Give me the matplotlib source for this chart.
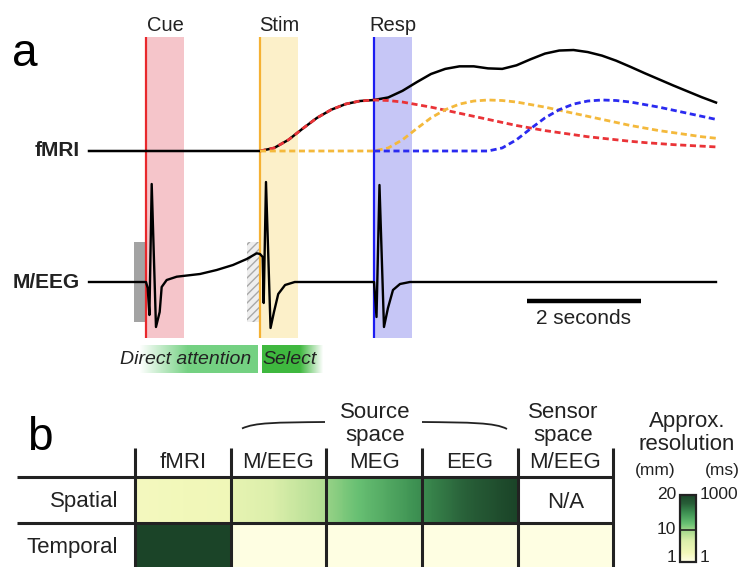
import numpy as np
import matplotlib.pyplot as plt
from matplotlib.colors import LinearSegmentedColormap, Normalize, to_rgb
from matplotlib.patches import Rectangle, PathPatch
from matplotlib.path import Path

plt.rcParams['font.family'] = ['Liberation Sans', 'DejaVu Sans']
INK = '#222222'

# ---------------- panel a: task timeline ----------------
events = ["Cue", "Stim", "Resp"]
event_times = [0.0, 2.0, 4.0]            # s
event_width = 0.67                        # s, shaded window after each event
event_colors = ["#e8282c", "#f5b133", "#1c1cf2"]
band_colors = ["#f5c5ca", "#fcf0c9", "#c6c6f6"]
dash_colors = ["#ea3337", "#f4b93c", "#2a2af0"]
dash_start = [2.0, 2.0, 4.0]             # s, where each dashed response is drawn from

# normalised haemodynamic response, sampled every 0.25 s after the event
HRF_DT = 0.25
hrf_v = [0, 0, 0, 0, 0, 0, 0, 0, 0,
         0.06, 0.22, 0.44, 0.65, 0.81, 0.92, 0.98, 1.00,
         0.99, 0.96, 0.91, 0.86, 0.80, 0.74, 0.68, 0.62,
         0.56, 0.50, 0.45, 0.40, 0.36, 0.32, 0.28, 0.25,
         0.22, 0.19, 0.165, 0.145, 0.125, 0.11, 0.095, 0.08]

# M/EEG trace (s, arbitrary units)
meeg_t = [-1.0, 0.0, 0.03, 0.06, 0.10, 0.175, 0.24, 0.275, 0.363, 0.539, 0.947,
          1.24, 1.526, 1.767, 1.942, 2.0, 2.047, 2.065, 2.105, 2.185, 2.245,
          2.32, 2.44, 2.61, 4.0, 4.044, 4.096, 4.175, 4.245, 4.333, 4.456,
          4.63, 10.0]
meeg_v = [0, 0, -0.06, -0.33, 0.98, -0.45, -0.30, -0.05, 0.02, 0.053, 0.08,
          0.12, 0.17, 0.23, 0.287, 0.28, 0.25, -0.21, 1.0, -0.46, -0.30,
          -0.12, -0.03, 0, 0, -0.35, 0.97, -0.45, -0.26, -0.08, -0.02,
          0, 0]

# baseline windows in the M/EEG row: (start, end, hatched)
baseline_windows = [(-0.205, 0.0, False), (1.78, 1.98, True)]
scale_bar = (6.68, 8.68)

# ---------------- panel b: resolution table ----------------
columns = ["fMRI", "M/EEG", "MEG", "EEG", "M/EEG"]
rows = ["Spatial", "Temporal"]
spatial_mm = [(3.0, 3.6), (5.0, 9.0), (10.0, 15.0), (15.0, 20.0), None]
temporal_ms = [1000, 1, 1, 1, 1]
mm_range = (1, 20)
ms_range = (1, 1000)

res_cmap = LinearSegmentedColormap.from_list(
    "res", [(0.0, "#fefee2"), (0.12, "#f2f8ba"), (0.3, "#dcefab"),
            (0.45, "#a5d88c"), (0.56, "#68c073"), (0.72, "#3e9253"),
            (0.86, "#285f38"), (1.0, "#1b4428")])

fig = plt.figure(figsize=(7.41, 5.67), dpi=100)
ax = fig.add_axes([0, 0, 1, 1])          # pixel space for labels and table
ax.set_xlim(0, 741)
ax.set_ylim(567, 0)
ax.axis('off')

at = fig.add_axes([0, 0, 1, 1])          # time axis for the traces
at.set_xlim(-146 / 57, 595 / 57)
at.set_ylim(567, 0)
at.axis('off')
at.patch.set_alpha(0)

FMRI_Y, FMRI_GAIN = 151, 51
MEEG_Y, MEEG_GAIN = 282, 100

for name, t0, c, bc in zip(events, event_times, event_colors, band_colors):
    at.add_patch(Rectangle((t0, 37), event_width, 301, color=bc, lw=0, zorder=1))
    at.plot([t0, t0], [37, 338], color=c, lw=1.6, zorder=2, solid_capstyle='butt')
    at.text(t0 + event_width / 2, 31, name, ha='center', va='baseline',
            fontsize=14.5, color=INK)

for t0, t1, hatched in baseline_windows:
    if hatched:
        at.add_patch(Rectangle((t0, 242), t1 - t0, 80, facecolor='#eeeeee',
                               edgecolor='#a8a8a8', hatch='////', lw=0, zorder=1.5))
    else:
        at.add_patch(Rectangle((t0, 242), t1 - t0, 80, color='#a3a3a3', lw=0, zorder=1.5))

# fMRI: each event's response is the HRF shifted to its onset
t_grid = -1.0 + HRF_DT * np.arange(45)
responses = []
for t0 in event_times:
    r = np.zeros(len(t_grid))
    lead = int(round((t0 - t_grid[0]) / HRF_DT))
    n = min(len(hrf_v), len(t_grid) - lead)
    r[lead:lead + n] = hrf_v[:n]
    responses.append(r)
total = np.sum(responses, axis=0)
at.plot(t_grid, FMRI_Y - FMRI_GAIN * total, color='black', lw=1.8, zorder=3)
for r, start, c in zip(responses, dash_start, dash_colors):
    m = t_grid >= start - 1e-9
    at.plot(t_grid[m], FMRI_Y - FMRI_GAIN * r[m], color=c, lw=2.0,
            dashes=(2.2, 1.3), zorder=4)

at.plot(meeg_t, MEEG_Y - MEEG_GAIN * np.array(meeg_v), color='black', lw=1.7,
        zorder=3, solid_joinstyle='round')

at.plot(scale_bar, [301, 301], color='black', lw=3.2, solid_capstyle='butt')
at.text(np.mean(scale_bar), 318, "2 seconds", ha='center', va='center',
        fontsize=15, color=INK)

ax.text(12, 66, "a", fontsize=33, color='black', va='baseline')
ax.text(80, 151, "fMRI", fontsize=15, fontweight='bold', ha='right', va='center', color=INK)
ax.text(80, 282, "M/EEG", fontsize=15, fontweight='bold', ha='right', va='center', color=INK)


def fade_box(x0, x1, y0, y1, color, alpha):
    rgba = np.zeros((1, len(alpha), 4))
    rgba[0, :, :3] = to_rgb(color)
    rgba[0, :, 3] = alpha
    ax.imshow(rgba, extent=(x0, x1, y1, y0), aspect='auto', zorder=1,
              interpolation='bilinear')


ramp = np.linspace(0, 1, 40)
fade_box(138, 258, 345, 373, '#74d182', np.clip(ramp * 2.4, 0, 1))
fade_box(261.5, 323, 345, 373, '#3fb83f', np.clip((1 - ramp) * 2.6, 0, 1))
ax.text(186, 360, "Direct attention", fontsize=14, style='italic', ha='center',
        va='center', color=INK, zorder=2)
ax.text(290, 360, "Select", fontsize=14, style='italic', ha='center',
        va='center', color=INK, zorder=2)

# ---------------- panel b drawing ----------------
ax.text(27, 450, "b", fontsize=33, color='black', va='baseline')
col_edges = np.linspace(135, 613.3, len(columns) + 1)
row_edges = [477, 523, 569]
mm_norm = Normalize(*mm_range)
ms_norm = Normalize(*ms_range)

for j, name in enumerate(columns):
    x0, x1 = col_edges[j], col_edges[j + 1]
    ax.text((x0 + x1) / 2, 463, name, ha='center', va='center', fontsize=16, color=INK)
    sp = spatial_mm[j]
    if sp is None:
        ax.text((x0 + x1) / 2, 503, "N/A", ha='center', va='center', fontsize=16, color=INK)
    else:
        grad = np.linspace(sp[0], sp[1], 64)[None, :]
        ax.imshow(grad, extent=(x0, x1, row_edges[1], row_edges[0]), cmap=res_cmap,
                  norm=mm_norm, aspect='auto', interpolation='bilinear', zorder=1)
    ax.add_patch(Rectangle((x0, row_edges[1]), x1 - x0, row_edges[2] - row_edges[1],
                           color=res_cmap(ms_norm(temporal_ms[j])), lw=0, zorder=1))

for name, yc in zip(rows, (501, 547)):
    ax.text(118, yc, name, ha='right', va='center', fontsize=16, color=INK)

for y in row_edges[:2]:
    ax.plot([17, 613.3], [y, y], color=INK, lw=2.2, zorder=3, solid_capstyle='butt')
for x in col_edges:
    ax.plot([x, x], [448, 567], color=INK, lw=2.2, zorder=3, solid_capstyle='butt')

ax.text(375, 412, "Source", ha='center', va='center', fontsize=16, color=INK)
ax.text(375, 436, "space", ha='center', va='center', fontsize=16, color=INK)
ax.text(563, 412, "Sensor", ha='center', va='center', fontsize=16, color=INK)
ax.text(563, 436, "space", ha='center', va='center', fontsize=16, color=INK)
for verts in ([(242, 428.5), (255, 422.5), (275, 422.5), (325, 422)],
              [(422, 422), (470, 422.5), (495, 422.5), (507, 429)]):
    ax.add_patch(PathPatch(Path(verts, [Path.MOVETO, Path.CURVE4, Path.CURVE4, Path.CURVE4]),
                           fill=False, edgecolor=INK, lw=1.3))

# colour scale
ax.text(687, 421, "Approx.", ha='center', va='center', fontsize=16, color=INK)
ax.text(687, 445, "resolution", ha='center', va='center', fontsize=16, color=INK)
ax.text(655, 470, "(mm)", ha='center', va='center', fontsize=12.5, color=INK)
ax.text(722, 470, "(ms)", ha='center', va='center', fontsize=12.5, color=INK)
cb_x0, cb_x1, cb_top, cb_bot = 680, 696, 494.5, 561.5
ax.imshow(np.linspace(0, 1, 128)[:, None], extent=(cb_x0, cb_x1, cb_bot, cb_top),
          origin='lower', cmap=res_cmap, aspect='auto', zorder=1)
ax.add_patch(Rectangle((cb_x0, cb_top), cb_x1 - cb_x0, cb_bot - cb_top, fill=False,
                       edgecolor=INK, lw=1.6, zorder=3))


def cb_y(frac):
    return cb_bot - frac * (cb_bot - cb_top)


for mm in (20, 10, 1):
    yy = min(cb_y(mm_norm(mm)), 557)
    ax.text(676, yy, str(mm), ha='right', va='center', fontsize=12.5, color=INK)
ax.plot([cb_x0, cb_x1], [cb_y(mm_norm(10))] * 2, color=INK, lw=1.2, zorder=3)
for ms in (1000, 1):
    yy = min(cb_y(ms_norm(ms)), 557)
    ax.text(700, yy, str(ms), ha='left', va='center', fontsize=12.5, color=INK)

fig.savefig("out.png", dpi=100)
